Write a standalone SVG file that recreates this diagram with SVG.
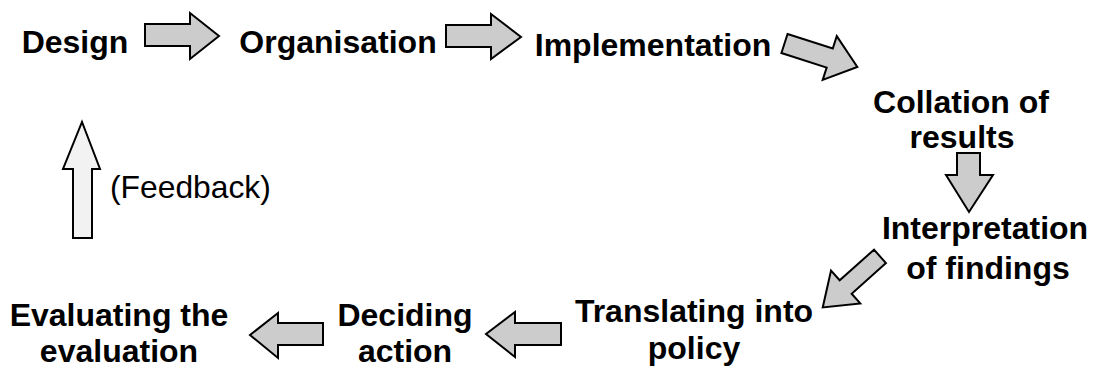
<svg xmlns="http://www.w3.org/2000/svg" width="1093" height="369" viewBox="0 0 1093 369">
<style>
.lbl{font-family:"Liberation Sans",Arial,sans-serif;font-weight:bold;font-size:32px;fill:#000;text-anchor:middle}
.fb{font-family:"Liberation Sans",Arial,sans-serif;font-size:31.8px;fill:#000}
.arr{fill:#cccccc;stroke:#000;stroke-width:2;stroke-linejoin:miter}
.arrl{fill:#f2f2f2;stroke:#000;stroke-width:2;stroke-linejoin:miter}
</style>
<rect width="1093" height="369" fill="#fff"/>
<g id="connectors">
<polygon class="arr" points="145,24 190,24 190,13 219,36 190,59 190,46 145,46"/>
<polygon class="arr" points="446,25 491,25 491,14 521,37 491,59 491,47 446,47"/>
<path class="arr" transform="translate(784.5,43.5) rotate(17.8)" d="M0,-10 L47.5,-10 L47.5,-23 L76.5,0 L47.5,23 L47.5,10 L0,10 Z"/>
<polygon class="arr" points="957,153 980,153 980,175 993,175 969,212 946,175 957,175"/>
<path class="arr" transform="translate(880,256.4) rotate(138.3)" d="M0,-9 L46,-9 L46,-22 L76.7,0 L46,22 L46,9 L0,9 Z"/>
<polygon class="arr" points="561,323 515,323 515,312 486,334 515,357 515,345 561,345"/>
<polygon class="arr" points="323,323 278,323 278,313 250,335 278,358 278,345 323,345"/>
<polygon class="arrl" points="73,238 73,169 63,169 82,122 100,169 92,169 92,238"/>
</g>
<g id="n-design"><text class="lbl" x="75" y="53">Design</text></g>
<g id="n-organisation"><text class="lbl" x="338" y="53">Organisation</text></g>
<g id="n-implementation"><text class="lbl" x="653" y="56">Implementation</text></g>
<g id="n-collation"><text class="lbl" x="961" y="113">Collation of</text><text class="lbl" x="962" y="148">results</text></g>
<g id="n-interpretation"><text class="lbl" x="985" y="239">Interpretation</text><text class="lbl" x="988" y="279">of findings</text></g>
<g id="n-translating"><text class="lbl" x="694" y="322">Translating into</text><text class="lbl" x="694" y="359">policy</text></g>
<g id="n-deciding"><text class="lbl" x="405" y="326">Deciding</text><text class="lbl" x="405" y="362">action</text></g>
<g id="n-evaluating"><text class="lbl" x="119" y="326">Evaluating the</text><text class="lbl" x="119" y="362">evaluation</text></g>
<g id="feedback"><text class="fb" x="110" y="198">(Feedback)</text></g>
</svg>
